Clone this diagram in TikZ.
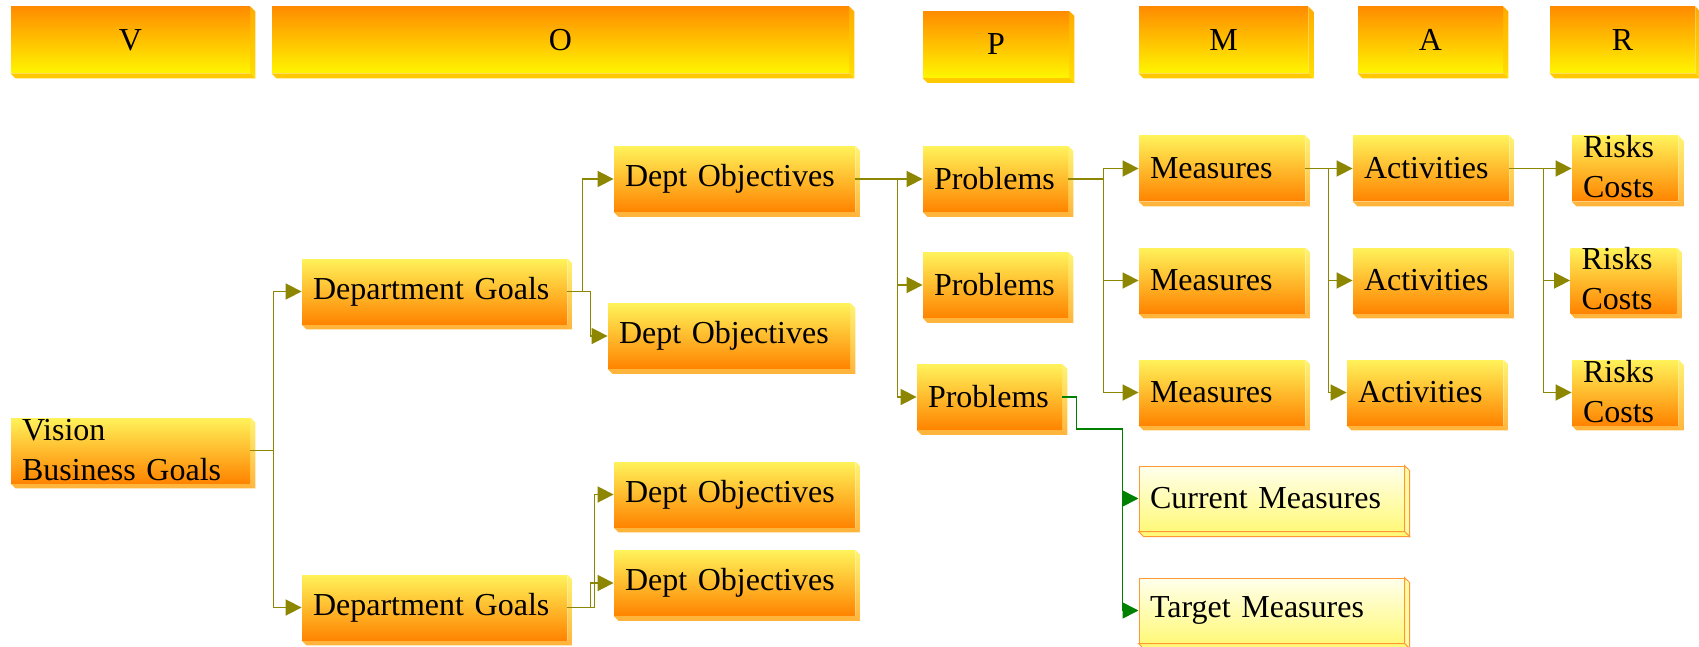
\documentclass[tikz,border=0pt]{standalone}
\usepackage{fontspec}
\setmainfont{Liberation Serif}
\usetikzlibrary{arrows.meta}

\definecolor{hdtop}{HTML}{FF8C00}
\definecolor{hdbot}{HTML}{FFF500}
\definecolor{hdside}{HTML}{FFC800}
\definecolor{bdtop}{HTML}{FFF25A}
\definecolor{bdbot}{HTML}{FF8400}
\definecolor{bdside}{HTML}{FFB43C}
\definecolor{pltop}{HTML}{FFFFEC}
\definecolor{plbot}{HTML}{FFF97A}
\definecolor{plline}{HTML}{FF9933}
\definecolor{darkgreen}{HTML}{008000}

% raised edge on the right and bottom of a box
\tikzset{
  bevel/.style 2 args={append after command={\pgfextra{
    \path[#1] (\tikzlastnode.north east) -- ++(2.5pt,-2.5pt) -- ([shift={(2.5pt,-2.5pt)}]\tikzlastnode.south east) -- (\tikzlastnode.south east) -- cycle;
    \path[#2] (\tikzlastnode.south west) -- ([shift={(2.5pt,-2.5pt)}]\tikzlastnode.south west) -- ([shift={(2.5pt,-2.5pt)}]\tikzlastnode.south east) -- (\tikzlastnode.south east) -- cycle;
  }}}
}

\tikzstyle{header} = [rectangle, minimum height=33pt, inner sep=0pt, text centered, top color=hdtop, bottom color=hdbot, bevel={top color=hdtop!70!hdbot, bottom color=hdbot!80!hdtop}{fill=hdside}]
\tikzstyle{goal} = [rectangle, minimum height=32.5pt, inner xsep=5.5pt, inner ysep=0pt, align=left, top color=bdtop, bottom color=bdbot, bevel={top color=bdtop!85!white, bottom color=bdside}{fill=bdside}]
\tikzstyle{twoline} = [text height=11pt, text depth=21.5pt]
\tikzstyle{current} = [rectangle, minimum height=32.5pt, inner xsep=5.5pt, inner ysep=0pt, align=left, draw=plline, line width=0.5pt, top color=pltop, bottom color=plbot, bevel={fill=plbot!60!pltop, draw=plline, line width=0.5pt}{fill=plbot, draw=plline, line width=0.5pt}]
\tikzstyle{edge} = [line width=0.8pt, draw=olive, ->, >={Triangle[length=8pt, width=8pt]}]
\tikzstyle{gedge} = [line width=0.8pt, draw=darkgreen, ->, >={Triangle[length=8pt, width=8pt]}]

\begin{document}
\begin{tikzpicture}[x=0.5pt, y=-0.5pt, node distance=56pt, every node/.style={font=\fontsize{16pt}{20pt}\selectfont}]
\useasboundingbox (0,0) rectangle (1699,647);

% column headers
\node (hv) [header, minimum width=119.5pt] at (130.5,40) {V};
\node (ho) [header, minimum width=288.5pt] at (560.5,40) {O};
\node (hp) [header, minimum width=73pt] at (996,44.5) {P};
\node (hm) [header, minimum width=84.5pt] at (1223.5,40) {M};
\node (ha) [header, minimum width=72.5pt] at (1430.5,40) {A};
\node (hr) [header, minimum width=72.5pt] at (1622.5,40) {R};

% V and O
\node (vis) [goal, twoline, text width=108.5pt] at (130.5,450.5) {Vision\\Business Goals};
\node (g1) [goal, text width=121.5pt] at (434.5,291.5) {Department Goals};
\node (g2) [goal, text width=121.5pt] at (434.5,607.5) {Department Goals};
\node (do1) [goal, text width=109.5pt] at (734.5,179) {Dept Objectives};
\node (do2) [goal, text width=110pt] at (729,336) {Dept Objectives};
\node (do3) [goal, text width=109.5pt] at (734.5,494.5) {Dept Objectives};
\node (do4) [goal, text width=109.5pt] at (734.5,583) {Dept Objectives};

% P M A R
\node (p1) [goal, text width=61.5pt] at (995.5,179) {Problems};
\node (p2) [goal, text width=61.5pt, below of=p1, yshift=3pt] {Problems};
\node (p3) [goal, text width=61.5pt, below of=p2, xshift=-3pt] {Problems};
\node (m1) [goal, text width=72pt] at (1222,168.5) {Measures};
\node (m2) [goal, text width=72pt, below of=m1] {Measures};
\node (m3) [goal, text width=72pt, below of=m2] {Measures};
\node (a1) [goal, text width=67pt] at (1431,168.5) {Activities};
\node (a2) [goal, text width=67pt, below of=a1] {Activities};
\node (a3) [goal, text width=67pt, below of=a2, xshift=-3pt] {Activities};
\node (r1) [goal, twoline, text width=42pt] at (1625,168.5) {Risks\\Costs};
\node (r2) [goal, twoline, text width=42pt, below of=r1, xshift=-0.75pt] {Risks\\Costs};
\node (r3) [goal, twoline, text width=42pt, below of=r2, xshift=0.75pt] {Risks\\Costs};
\node (cur) [current, text width=121.5pt] at (1271.5,498.5) {Current Measures};
\node (tgt) [current, text width=121.5pt, below of=cur] {Target Measures};

\draw [edge] (vis.east) -- ++(23,0) |- (g1.west);
\draw [edge] (vis.east) -- ++(23,0) |- (g2.west);
\draw [edge] (g1.east) -- ++(15,0) |- (do1.west);
\draw [edge] (g1.east) -- ++(23,0) |- (do2.west);
\draw [edge] (g2.east) -- ++(27,0) |- (do3.west);
\draw [edge] (g2.east) -- ++(23,0) |- (do4.west);
\foreach \n in {p1,p2,p3} \draw [edge] (do1.east) -- ++(42,0) |- (\n.west);
\foreach \n in {m1,m2,m3} \draw [edge] (p1.east) -- ++(35,0) |- (\n.west);
\foreach \n in {a1,a2,a3} \draw [edge] (m1.east) -- ++(23,0) |- (\n.west);
\foreach \n in {r1,r2,r3} \draw [edge] (a1.east) -- ++(34,0) |- (\n.west);
\draw [gedge] (p3.east) -- ++(14,0) -- ++(0,32) -- ++(46,0) |- (cur.west);
\draw [gedge] (p3.east) -- ++(14,0) -- ++(0,32) -- ++(46,0) |- (tgt.west);

\end{tikzpicture}
\end{document}
